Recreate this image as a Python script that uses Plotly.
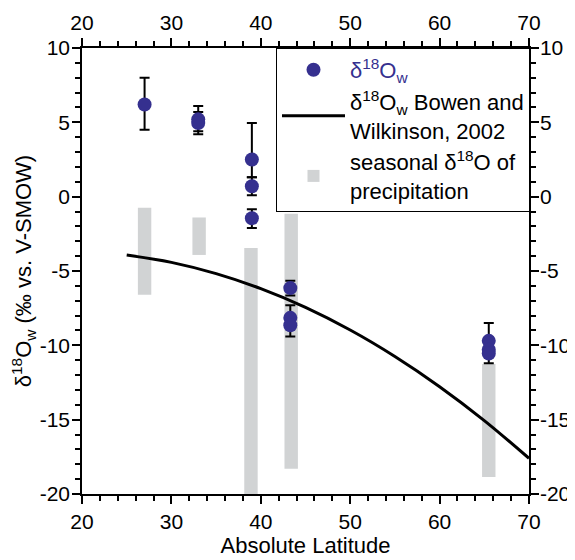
import plotly.graph_objects as go

# ---- data ----
# measured δ18Ow points (latitude, value, +err, -err)
pt_lat = [27.0, 33.0, 33.0, 39.0, 39.0, 39.0, 43.3, 43.3, 43.3, 65.5, 65.5, 65.5]
pt_val = [6.2, 5.2, 4.95, 2.5, 0.7, -1.45, -6.15, -8.15, -8.65, -9.7, -10.3, -10.55]
pt_err_plus = [1.8, 0.9, 0.75, 2.45, 0.6, 0.6, 0.5, 0.85, 0.0, 1.2, 0.0, 0.0]
pt_err_minus = [1.7, 0.8, 0.75, 1.2, 0.6, 0.65, 0.5, 0.0, 0.75, 0.0, 0.0, 0.65]

# Bowen & Wilkinson 2002 curve
bw_lat = [25, 30, 35, 40, 45, 50, 55, 60, 65, 70]
bw_val = [-3.93, -4.42, -5.18, -6.19, -7.45, -8.97, -10.75, -12.78, -15.06, -17.6]

# seasonal δ18O of precipitation ranges
bar_lat = [27.0, 33.1, 38.9, 43.4, 65.5]
bar_top = [-0.75, -1.4, -3.45, -1.15, -11.25]
bar_bottom = [-6.6, -3.92, -21.0, -18.3, -18.85]

# axis ticks
x_ticks = [20, 30, 40, 50, 60, 70]
y_ticks = [-20, -15, -10, -5, 0, 5, 10]
y_tick_labels = ["-20", "-15", "-10", "-5", "0", "5", "10"]

BLUE = "#35308f"
GREY = "#d1d3d4"
FONT = "Liberation Sans, Arial, sans-serif"

fig = go.Figure()

fig.add_trace(go.Bar(
    x=bar_lat,
    y=[t - b for t, b in zip(bar_top, bar_bottom)],
    base=bar_bottom,
    width=1.5,
    marker=dict(color=GREY, line=dict(width=0)),
    name="seasonal δ<sup>18</sup>O of<br>precipitation",
    legendrank=3,
))

fig.add_trace(go.Scatter(
    x=bw_lat, y=bw_val, mode="lines",
    line=dict(color="black", width=3, shape="spline"),
    name="δ<sup>18</sup>O<sub>w</sub> Bowen and<br>Wilkinson, 2002",
    legendrank=2,
))

fig.add_trace(go.Scatter(
    x=pt_lat, y=pt_val, mode="markers",
    marker=dict(color=BLUE, size=14),
    error_y=dict(type="data", symmetric=False, array=pt_err_plus,
                 arrayminus=pt_err_minus, color="black", thickness=2, width=5),
    name='<span style="color:%s">δ<sup>18</sup>O<sub>w</sub></span>' % BLUE,
    legendrank=1,
))

# dummy trace to activate mirrored axes
fig.add_trace(go.Scatter(x=[None], y=[None], xaxis="x2", yaxis="y2",
                         showlegend=False, hoverinfo="skip"))

axis_common = dict(
    showline=True, linecolor="black", linewidth=1.5,
    ticks="outside", ticklen=8, tickwidth=1.5, tickcolor="black",
    showgrid=False, zeroline=False, automargin=False,
    tickfont=dict(family=FONT, size=21, color="black"),
)

fig.update_layout(
    width=567, height=552,
    margin=dict(l=74, r=46, t=40, b=66),
    paper_bgcolor="white", plot_bgcolor="white",
    font=dict(family=FONT, color="black"),
    barmode="overlay",
    showlegend=True,
    legend=dict(
        x=0.434, y=1, xanchor="left", yanchor="top",
        bgcolor="white", bordercolor="black", borderwidth=1,
        font=dict(family=FONT, size=22, color="black"),
        itemwidth=63,
        tracegroupgap=0,
    ),
    xaxis=dict(
        range=[20, 70], tickvals=x_ticks,
        minor=dict(dtick=2, ticklen=5, tickwidth=1.5, tickcolor="black", ticks="outside"),
        title=dict(text="Absolute Latitude", font=dict(family=FONT, size=22), standoff=6),
        **axis_common,
    ),
    xaxis2=dict(
        range=[20, 70], tickvals=x_ticks, overlaying="x", side="top",
        minor=dict(dtick=2, ticklen=5, tickwidth=1.5, tickcolor="black", ticks="outside"),
        **axis_common,
    ),
    yaxis=dict(
        range=[-20, 10], tickvals=y_ticks, ticktext=y_tick_labels,
        minor=dict(dtick=1, ticklen=5, tickwidth=1.5, tickcolor="black", ticks="outside"),
        title=dict(text="δ<sup>18</sup>O<sub>w</sub> (‰ vs. V-SMOW)",
                   font=dict(family=FONT, size=22), standoff=4),
        ticklabelstandoff=-2,
        **axis_common,
    ),
    yaxis2=dict(
        range=[-20, 10], tickvals=y_ticks, ticktext=y_tick_labels,
        overlaying="y", side="right",
        minor=dict(dtick=1, ticklen=5, tickwidth=1.5, tickcolor="black", ticks="outside"),
        ticklabelstandoff=-3,
        **axis_common,
    ),
)

fig.write_html("out.html")
